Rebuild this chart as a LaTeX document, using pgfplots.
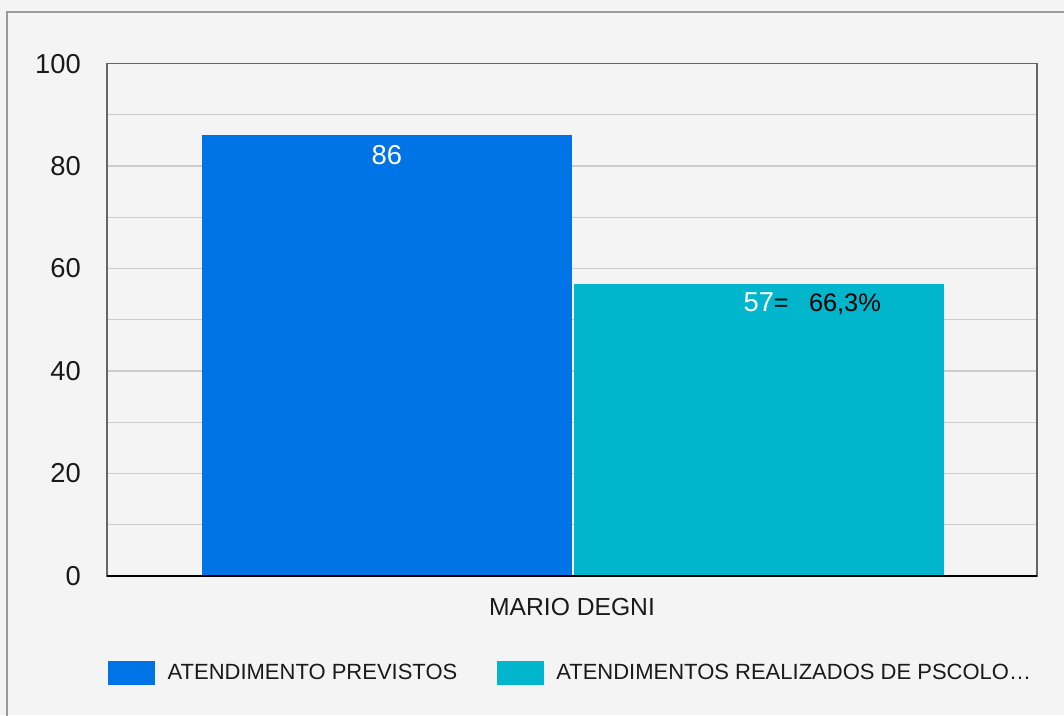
\documentclass[border=0pt]{standalone}
\usepackage{pgfplots}
\pgfplotsset{compat=1.18}
\usepackage{fontspec}
\setmainfont{Liberation Sans}
\definecolor{bg}{HTML}{F4F4F4}
\definecolor{frame}{HTML}{9A9A9A}
\definecolor{axgray}{HTML}{666666}
\definecolor{gridc}{HTML}{CCCCCC}
\definecolor{barblue}{HTML}{0073E6}
\definecolor{barcyan}{HTML}{00B5CC}
\definecolor{txt}{HTML}{1A1A1A}
\begin{document}
\begin{tikzpicture}
% 1px = 0.75pt ; picture 1064x715 px
\useasboundingbox (0pt,0pt) rectangle (798pt,536.25pt);
\fill[bg] (0pt,0pt) rectangle (798pt,536.25pt);
\draw[frame, line width=1.5pt] (5.25pt,-10pt) -- (5.25pt,527.25pt) -- (810pt,527.25pt);
\begin{axis}[
  at={(80.25pt,104.25pt)}, anchor=south west,
  scale only axis, width=697.5pt, height=384.3pt,
  xmin=107, xmax=1037, ymin=0, ymax=100,
  xtick={572}, xticklabels={MARIO DEGNI},
  ytick={0,20,40,60,80,100}, minor ytick={10,30,50,70,90},
  ymajorgrids, yminorgrids,
  major grid style={gridc, line width=0.9pt},
  minor grid style={gridc, line width=0.9pt},
  major tick length=0pt, minor tick length=0pt,
  axis line style={axgray, line width=1.2pt},
  /pgf/number format/assume math mode=true,
  yticklabel style={font=\fontsize{20.5}{24}\selectfont, text=txt, anchor=east, inner sep=0pt, xshift=-19.5pt},
  xticklabel style={font=\fontsize{18.5}{22}\selectfont, text=txt, anchor=north, inner sep=0pt, yshift=-16.5pt},
  legend style={at={(axis description cs:0.001,-0.1893)}, anchor=west, draw=none, fill=none,
    inner sep=0pt, outer sep=0pt, font=\fontsize{16.5}{20}\selectfont, text=txt,
    /tikz/every odd column/.append style={column sep=7.5pt},
    /tikz/every even column/.append style={column sep=27.5pt}},
  legend columns=2,
  legend image code/.code={\fill[#1] (0pt,-9pt) rectangle (35.25pt,9pt);},
  clip=false,
]
\addplot[ybar, bar width=369.5, bar shift=0pt, fill=barblue, draw=none,
  nodes near coords={86},
  every node near coord/.append style={anchor=north, inner sep=0pt, yshift=-7pt, text=white, font=\fontsize{20.5}{24}\selectfont}]
  coordinates {(386.75,86)};
\addlegendentry{ATENDIMENTO PREVISTOS}
\addplot[ybar, bar width=370.5, bar shift=0pt, fill=barcyan, draw=none,
  nodes near coords={57\rlap{\textcolor{black}{\fontsize{19}{22}\selectfont=\hspace{0.8em}66,3\%}}},
  every node near coord/.append style={anchor=north, inner sep=0pt, yshift=-6pt, text=white, font=\fontsize{20.5}{24}\selectfont}]
  coordinates {(758.75,57)};
\addlegendentry{ATENDIMENTOS REALIZADOS DE PSCOLO…}
\draw[black, line width=1.5pt] (rel axis cs:0,0) -- (rel axis cs:1,0);
\end{axis}
\end{tikzpicture}
\end{document}
